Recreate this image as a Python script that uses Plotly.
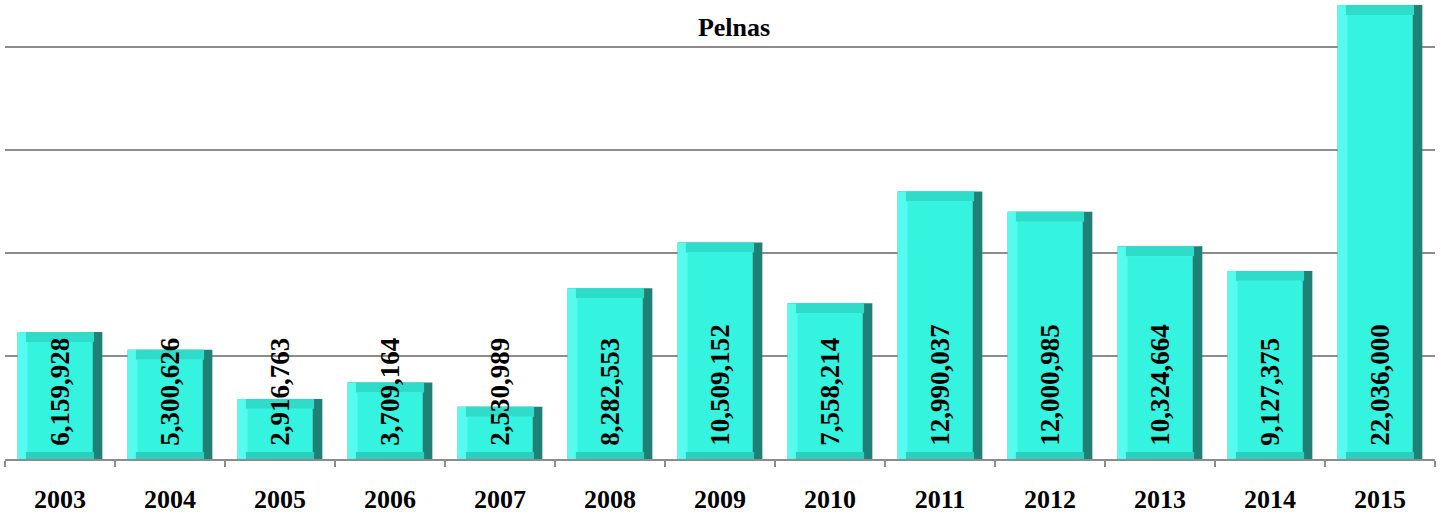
import plotly.graph_objects as go

years = ["2003", "2004", "2005", "2006", "2007", "2008", "2009", "2010",
         "2011", "2012", "2013", "2014", "2015"]
values = [6159928, 5300626, 2916763, 3709164, 2530989, 8282553, 10509152,
          7558214, 12990037, 12000985, 10324664, 9127375, 22036000]
title_text = "Pelnas"

FONT = "Liberation Serif, Times New Roman, serif"
W = 0.77          # bar width (category units)
E = 0.09          # side bevel width (category units)
TB = 480000       # top bevel height (data units)
BB = 340000       # bottom bevel height (data units)
TXT_BASE = 500000 # where labels start

labels = [f"{v:,}" for v in values]

fig = go.Figure()
common = dict(x=years, showlegend=False, hoverinfo="skip")

# dark (right bevel / outline)
fig.add_trace(go.Bar(y=values, width=W, offset=-W / 2,
                     marker=dict(color="#1f8076", line=dict(width=0)), **common))
# light left bevel
fig.add_trace(go.Bar(y=values, width=W - E, offset=-W / 2,
                     marker=dict(color="#55fbee", line=dict(width=0)), **common))
# top bevel
fig.add_trace(go.Bar(y=[TB] * len(values), base=[v - TB for v in values],
                     width=W - 2 * E + 0.03, offset=-W / 2 + E - 0.015,
                     marker=dict(color="#2fdcc9", line=dict(width=0)), **common))
# bottom bevel
fig.add_trace(go.Bar(y=[BB] * len(values), base=[0] * len(values),
                     width=W - 2 * E + 0.03, offset=-W / 2 + E - 0.015,
                     marker=dict(color="#2ccfbd", line=dict(width=0)), **common))
# main face
fig.add_trace(go.Bar(y=[v - TB - BB for v in values], base=[BB] * len(values),
                     width=W - 2 * E, offset=-W / 2 + E,
                     marker=dict(color="#34f4df", line=dict(width=0)), **common))
# labels
fig.add_trace(go.Bar(y=[v - TXT_BASE for v in values], base=[TXT_BASE] * len(values),
                     width=W, offset=-W / 2,
                     marker=dict(color="rgba(0,0,0,0)", line=dict(width=0)),
                     text=labels, textposition="inside", insidetextanchor="start",
                     textangle=-90, constraintext="none",
                     textfont=dict(family=FONT, size=27, color="black", weight="bold"),
                     cliponaxis=False, **common))

fig.update_layout(
    width=1447, height=515,
    margin=dict(l=5, r=12, t=0, b=56),
    barmode="overlay",
    plot_bgcolor="white", paper_bgcolor="white",
    title=dict(text=title_text, x=734 / 1447, xref="container", xanchor="center",
               y=1 - 27 / 515, yref="container", yanchor="middle",
               font=dict(family=FONT, size=26, color="black", weight="bold")),
    xaxis=dict(type="category", showline=True, linecolor="#8c8c8c", linewidth=2,
               ticks="outside", tickson="boundaries", ticklen=6, tickwidth=2,
               tickcolor="#8c8c8c", ticklabelstandoff=16,
               tickfont=dict(family=FONT, size=26, color="black", weight="bold"),
               showgrid=False, range=[-0.5, 12.5]),
    yaxis=dict(range=[0, 22280000], showticklabels=False, showgrid=True,
               gridcolor="#8c8c8c", gridwidth=2, dtick=5000000, tick0=0,
               zeroline=False, showline=False, ticks=""),
)

fig.write_html("out.html",
               config={"displayModeBar": False},
               post_script="document.body.style.margin='0';document.body.style.overflow='hidden';")
